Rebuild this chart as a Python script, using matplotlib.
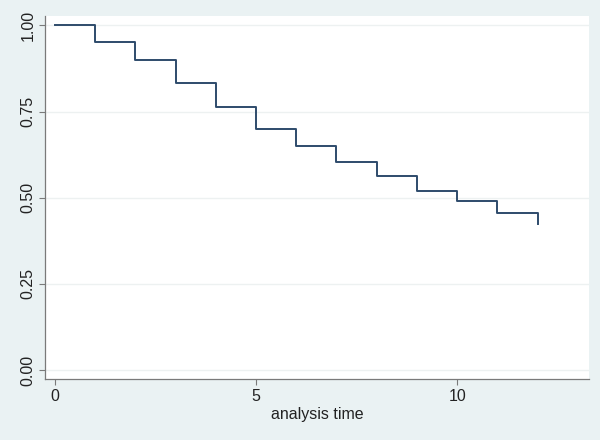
import matplotlib
matplotlib.use('Agg')
import matplotlib.pyplot as plt

# Kaplan-Meier survival estimate
times = [0, 1, 2, 3, 4, 5, 6, 7, 8, 9, 10, 11, 12]
survival = [1.0, 0.952, 0.900, 0.833, 0.763, 0.700, 0.651, 0.604, 0.564, 0.520, 0.489, 0.455, 0.423]

x_ticks = [0, 5, 10]
y_ticks = [0.00, 0.25, 0.50, 0.75, 1.00]
y_ticklabels = ['0.00', '0.25', '0.50', '0.75', '1.00']
x_label = 'analysis time'

plt.rcParams['font.family'] = ['Liberation Sans', 'DejaVu Sans']

bg = '#EAF2F3'
line_color = '#2E4B6B'

fig = plt.figure(figsize=(6, 4.4), dpi=100)
fig.patch.set_facecolor(bg)
ax = fig.add_axes([0.075, 0.1386, 0.9067, 0.8257])
ax.set_facecolor('white')

# step curve: each level holds from its time to the next event time
ax.step(times, survival, where='post', color=line_color, linewidth=1.4)

ax.set_xlim(-0.249, 13.28)
ax.set_ylim(-0.026, 1.028)

ax.set_xticks(x_ticks)
ax.set_yticks(y_ticks)
ax.set_yticklabels(y_ticklabels, rotation=90, va='center')
ax.tick_params(axis='both', direction='out', length=4, width=0.8, color='#7a7a7a',
               labelsize=11.5, labelcolor='#222222', pad=3)

ax.grid(True, axis='y', color='#EDF1F1', linewidth=1.0)
ax.set_axisbelow(True)

for side in ['top', 'right']:
    ax.spines[side].set_visible(False)
for side in ['left', 'bottom']:
    ax.spines[side].set_color('#7a7a7a')
    ax.spines[side].set_linewidth(0.9)

ax.set_xlabel(x_label, fontsize=11.5, color='#222222', labelpad=2)

fig.savefig('out.png', dpi=100, facecolor=bg)
